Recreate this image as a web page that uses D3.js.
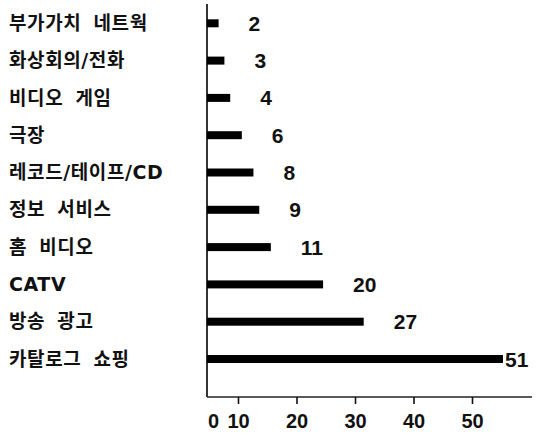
<!DOCTYPE html>
<html>
<head>
<meta charset="utf-8">
<script src="https://cdn.jsdelivr.net/npm/d3@7"></script>
<style>
  html, body { margin: 0; padding: 0; background: #fff; }
  svg { display: block; }
  .cat { font-family: "DejaVu Sans", "Noto Sans CJK KR", sans-serif; font-weight: 700; font-size: 19px; fill: #111; word-spacing: 5px; letter-spacing: 0.6px; }
  .val { font-family: "Liberation Sans", Arial, sans-serif; font-weight: 700; font-size: 21px; fill: #111; }
  .tick text { font-family: "Liberation Sans", Arial, sans-serif; font-weight: 700; font-size: 20px; fill: #111; }
</style>
</head>
<body>
<svg id="chart" width="541" height="435"></svg>
<script>
// Market size by service category
const categories = [
  "부가가치 네트웍", "화상회의/전화", "비디오 게임", "극장", "레코드/테이프/CD",
  "정보 서비스", "홈 비디오", "CATV", "방송 광고", "카탈로그 쇼핑"
];
const values = [2, 3, 4, 6, 8, 9, 11, 20, 27, 51];
const tickValues = [0, 10, 20, 30, 40, 50];

const data = categories.map((c, i) => ({ category: c, value: values[i] }));

const svg = d3.select("#chart");

const originX = 207;
const axisY = 397;
const barHeight = 8;

// bar length scale
const x = d3.scaleLinear().domain([0, 51]).range([originX, 503]);

// axis label positions along the bottom rule
const xAxisScale = d3.scaleLinear().domain([0, 10, 50]).range([213, 238, 472]);

const y = d3.scalePoint().domain(categories).range([23.3, 359]);

// vertical baseline
svg.append("line")
  .attr("x1", originX).attr("x2", originX)
  .attr("y1", 4).attr("y2", axisY)
  .attr("stroke", "#000").attr("stroke-width", 1.6);

// horizontal rule
svg.append("line")
  .attr("x1", originX).attr("x2", 532)
  .attr("y1", axisY).attr("y2", axisY)
  .attr("stroke", "#222").attr("stroke-width", 1.5);

// bottom axis with ticks hanging below the rule
const axis = d3.axisBottom(xAxisScale)
  .tickValues(tickValues)
  .tickFormat(d3.format("d"))
  .tickSize(7)
  .tickPadding(10);

const gAxis = svg.append("g")
  .attr("transform", `translate(0,${axisY})`)
  .call(axis);
gAxis.select(".domain").remove();
gAxis.selectAll(".tick line").attr("stroke", "#111").attr("stroke-width", 1.6);
gAxis.selectAll(".tick").filter(d => d === 0).select("line").remove();

// bars
svg.append("g").selectAll("rect")
  .data(data)
  .join("rect")
  .attr("x", originX)
  .attr("y", d => y(d.category) - barHeight / 2)
  .attr("width", d => x(d.value) - originX)
  .attr("height", barHeight)
  .attr("fill", "#000");

// category labels
svg.append("g").selectAll("text")
  .data(data)
  .join("text")
  .attr("class", "cat")
  .attr("x", 9)
  .attr("y", d => y(d.category))
  .attr("dy", "0.35em")
  .text(d => d.category);

// value labels
const maxVal = d3.max(values);
svg.append("g").selectAll("text")
  .data(data)
  .join("text")
  .attr("class", "val")
  .attr("x", d => x(d.value) + (d.value === maxVal ? 2 : 30))
  .attr("y", d => y(d.category))
  .attr("dy", "0.36em")
  .text(d => d.value);
</script>
</body>
</html>
